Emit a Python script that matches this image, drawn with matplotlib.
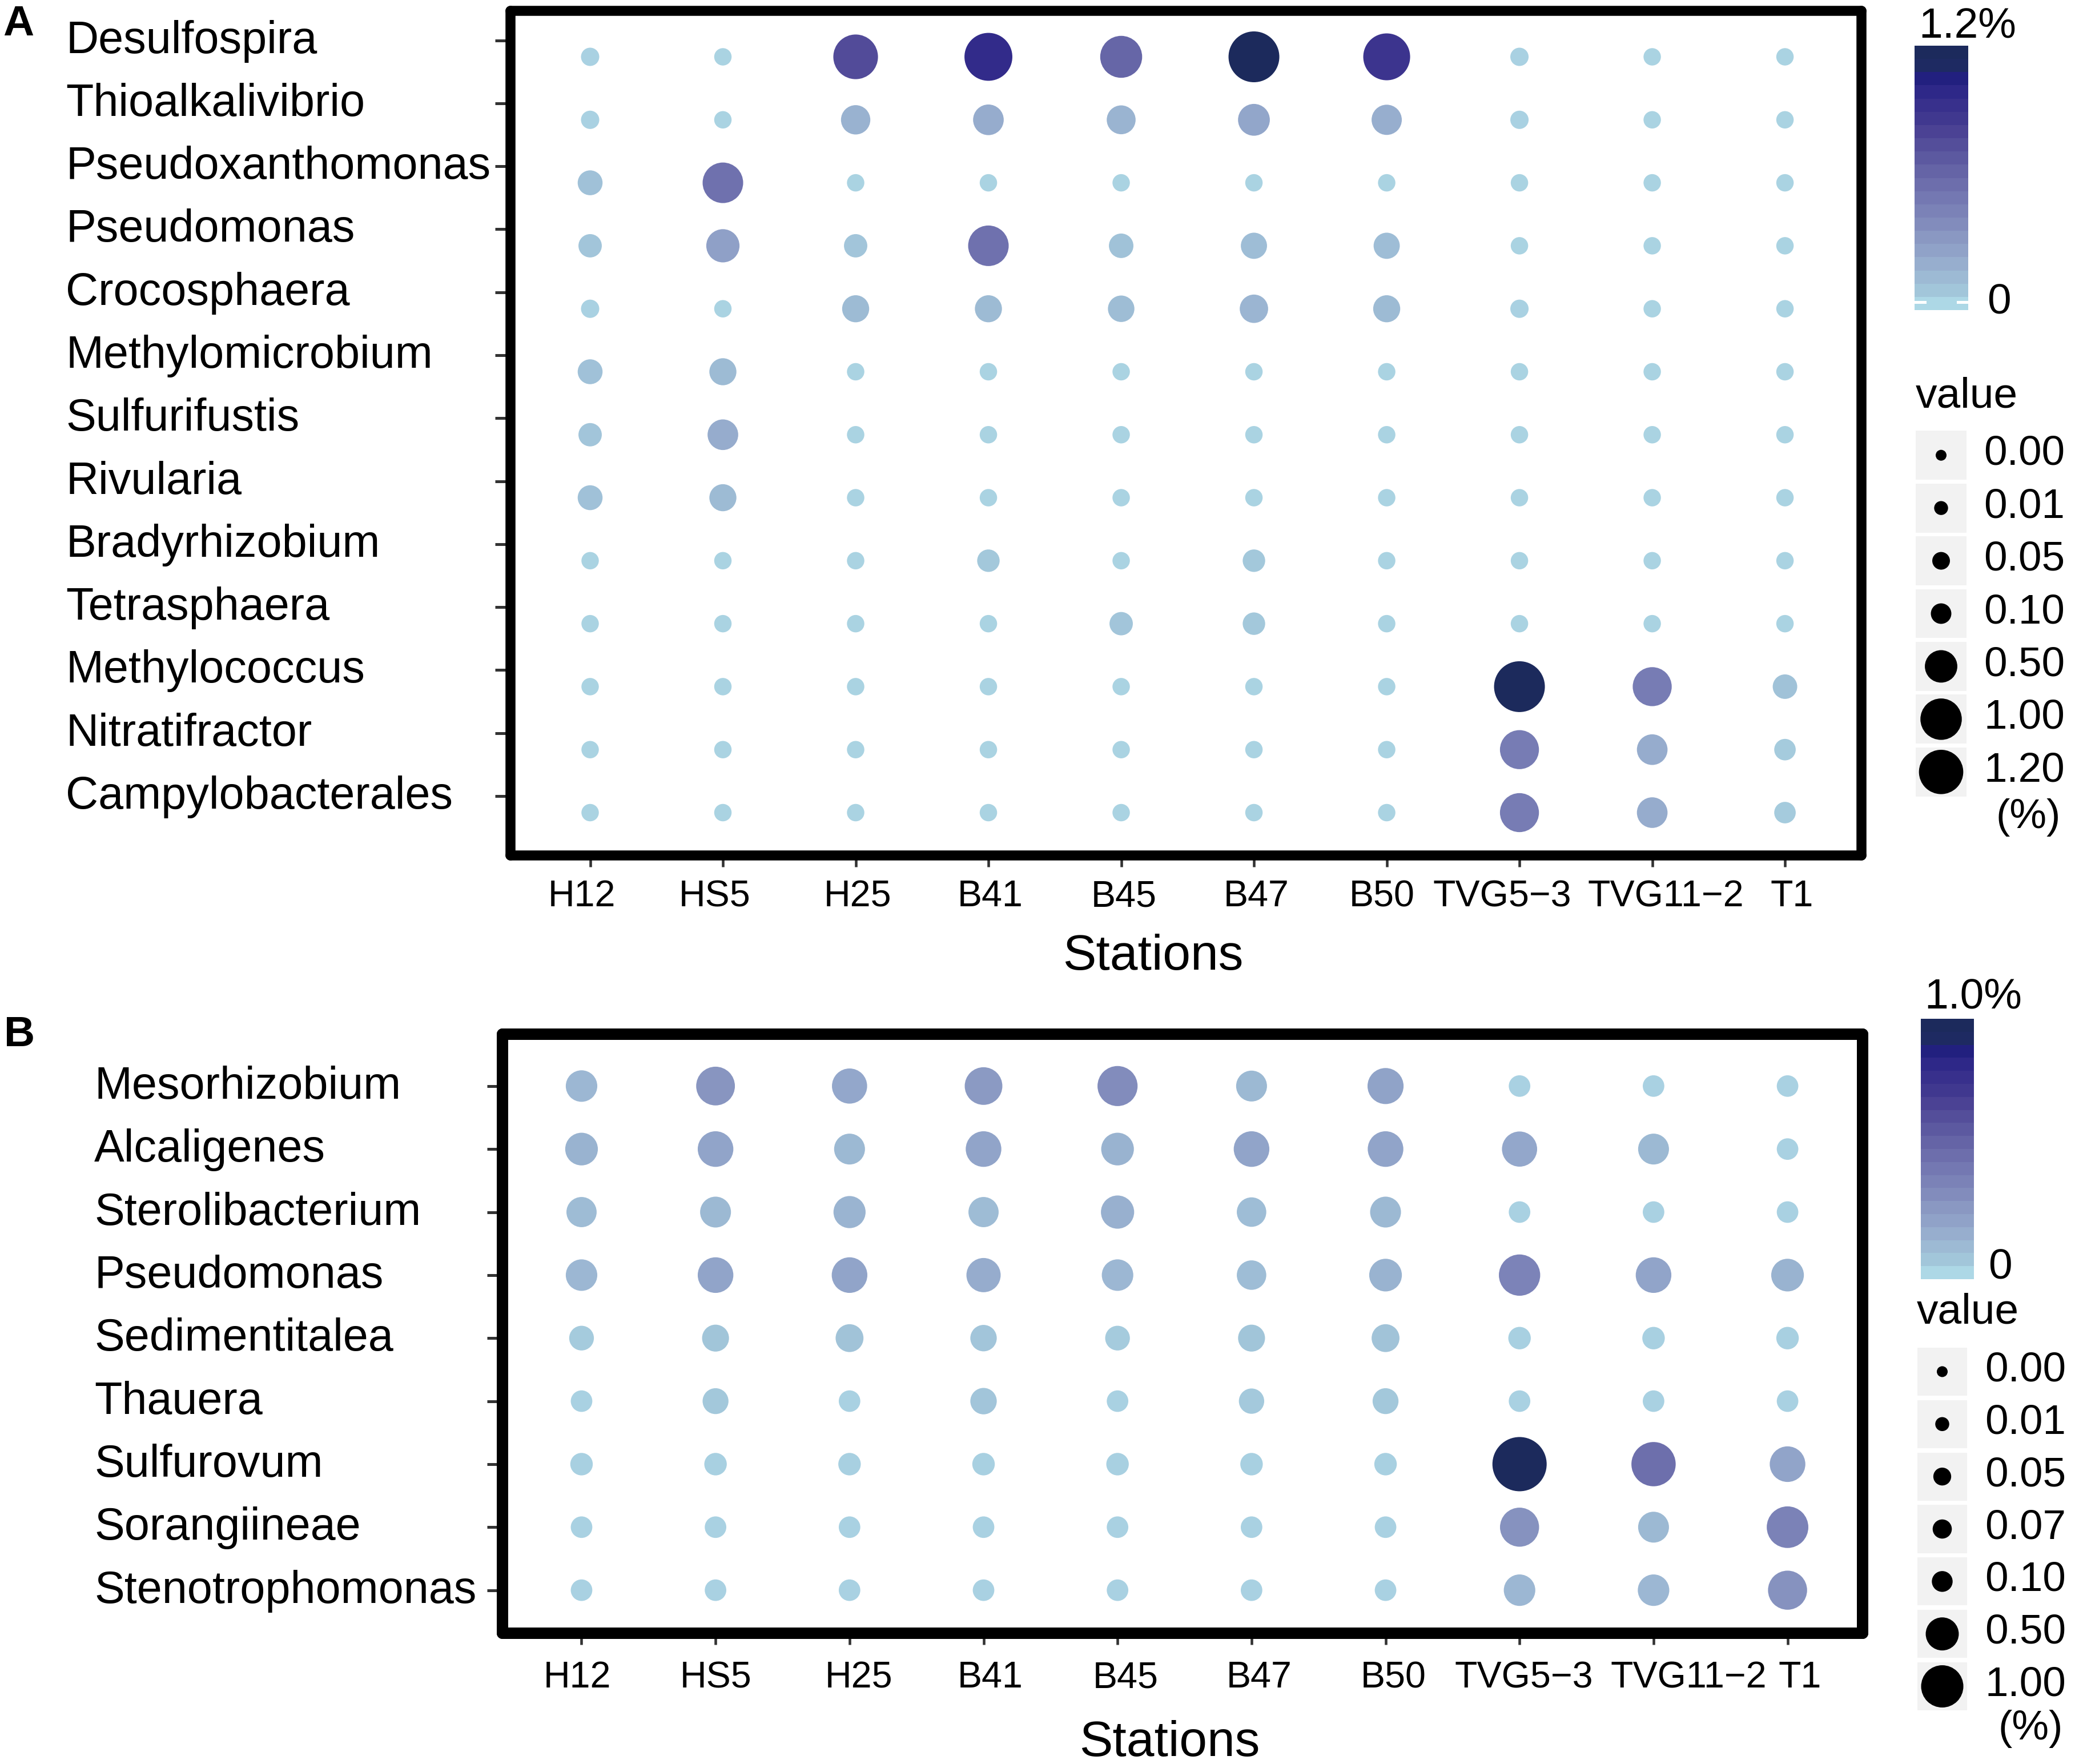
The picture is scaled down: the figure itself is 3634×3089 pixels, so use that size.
import numpy as np
import matplotlib
matplotlib.use("Agg")
import matplotlib.pyplot as plt
from matplotlib.colors import LinearSegmentedColormap, Normalize
from matplotlib.cm import ScalarMappable
from matplotlib.transforms import ScaledTranslation

plt.rcParams["font.family"] = ["Liberation Sans", "DejaVu Sans"]

# --- dados (abundancia relativa, %) ---
stations = ["H12", "HS5", "H25", "B41", "B45", "B47", "B50", "TVG5\u22123", "TVG11\u22122", "T1"]

taxa_a = ["Desulfospira", "Thioalkalivibrio", "Pseudoxanthomonas", "Pseudomonas",
          "Crocosphaera", "Methylomicrobium", "Sulfurifustis", "Rivularia",
          "Bradyrhizobium", "Tetrasphaera", "Methylococcus", "Nitratifractor",
          "Campylobacterales"]
abund_a = [
    [0.025, 0.02, 0.77, 0.98, 0.62, 1.20, 0.91, 0.025, 0.02, 0.02],
    [0.025, 0.02, 0.17, 0.20, 0.16, 0.23, 0.19, 0.025, 0.02, 0.02],
    [0.09, 0.55, 0.02, 0.02, 0.02, 0.02, 0.02, 0.02, 0.02, 0.02],
    [0.07, 0.27, 0.07, 0.55, 0.085, 0.11, 0.11, 0.02, 0.02, 0.02],
    [0.025, 0.02, 0.125, 0.125, 0.115, 0.15, 0.125, 0.025, 0.02, 0.02],
    [0.09, 0.125, 0.02, 0.02, 0.02, 0.02, 0.02, 0.02, 0.02, 0.02],
    [0.07, 0.20, 0.02, 0.02, 0.02, 0.02, 0.02, 0.02, 0.02, 0.02],
    [0.09, 0.125, 0.02, 0.02, 0.02, 0.02, 0.02, 0.02, 0.02, 0.02],
    [0.02, 0.02, 0.02, 0.06, 0.02, 0.06, 0.02, 0.02, 0.02, 0.02],
    [0.02, 0.02, 0.02, 0.02, 0.07, 0.06, 0.02, 0.02, 0.02, 0.02],
    [0.02, 0.02, 0.02, 0.02, 0.02, 0.02, 0.02, 1.20, 0.48, 0.085],
    [0.02, 0.02, 0.02, 0.02, 0.02, 0.02, 0.02, 0.48, 0.20, 0.05],
    [0.02, 0.02, 0.02, 0.02, 0.02, 0.02, 0.02, 0.48, 0.20, 0.05],
]
size_breaks_a = [0.00, 0.01, 0.05, 0.10, 0.50, 1.00, 1.20]
vmax_a = 1.2

taxa_b = ["Mesorhizobium", "Alcaligenes", "Sterolibacterium", "Pseudomonas",
          "Sedimentitalea", "Thauera", "Sulfurovum", "Sorangiineae",
          "Stenotrophomonas"]
abund_b = [
    [0.12, 0.28, 0.19, 0.25, 0.32, 0.11, 0.21, 0.02, 0.02, 0.02],
    [0.14, 0.20, 0.11, 0.20, 0.14, 0.20, 0.20, 0.19, 0.11, 0.02],
    [0.10, 0.11, 0.13, 0.10, 0.15, 0.09, 0.11, 0.02, 0.02, 0.02],
    [0.12, 0.20, 0.20, 0.17, 0.12, 0.09, 0.14, 0.36, 0.20, 0.14],
    [0.04, 0.06, 0.07, 0.055, 0.04, 0.06, 0.07, 0.025, 0.025, 0.025],
    [0.02, 0.05, 0.02, 0.055, 0.02, 0.045, 0.05, 0.02, 0.02, 0.02],
    [0.025, 0.025, 0.025, 0.025, 0.025, 0.025, 0.025, 1.00, 0.47, 0.20],
    [0.02, 0.02, 0.02, 0.02, 0.02, 0.02, 0.02, 0.29, 0.11, 0.37],
    [0.02, 0.02, 0.02, 0.02, 0.02, 0.02, 0.02, 0.12, 0.12, 0.29],
]
size_breaks_b = [0.00, 0.01, 0.05, 0.07, 0.10, 0.50, 1.00]
vmax_b = 1.0

# --- estilo ---
W, H, DPI = 3634, 3089, 300
PT = 72 / DPI  # pontos por pixel

cmap = LinearSegmentedColormap.from_list("abund", [
    "#add8e6", "#a2c6da", "#9dbad4", "#97aece", "#90a2c8", "#8a98c2", "#828cbc",
    "#7b82b7", "#7478b2", "#6d6eac", "#6564a6", "#5c59a0", "#544e9a", "#4b4294",
    "#40388f", "#38308c", "#2e2888", "#22207f", "#1e2a62", "#1c2a5c"])

fig = plt.figure(figsize=(W / DPI, H / DPI), dpi=DPI)


def rect(x0, y0, x1, y1):
    # caixa em pixels (origem no topo) -> fracao da figura
    return [x0 / W, 1 - y1 / H, (x1 - x0) / W, (y1 - y0) / H]


def ftext(x, y, s, **kw):
    fig.text(x / W, 1 - y / H, s, va="baseline", **kw)


def draw_panel(box, taxa, values, vmax, xlim, ylim, shift, label_px, lw, d0,
               nudges, xpad, xlabel_xy):
    ax = fig.add_axes(rect(*box))
    vals = np.array(values)
    ny, nx = vals.shape
    xs, ys = np.meshgrid(np.arange(nx), np.arange(ny))
    # diametro em px ~ raiz cubica do valor relativo
    diam = d0 + 78.6 * np.cbrt(vals / vmax)
    ax.scatter(xs.ravel(), ys.ravel(), s=(diam.ravel() * PT) ** 2, c=vals.ravel(),
               cmap=cmap, vmin=0, vmax=vmax, linewidths=0, zorder=3)
    ax.set_xlim(*xlim)
    ax.set_ylim(*ylim)
    for sp in ax.spines.values():
        sp.set_linewidth(lw)
        sp.set_capstyle("round")
        sp.set_zorder(5)
    ax.tick_params(axis="y", length=6.5, width=1.2, color="#333333",
                   pad=(box[0] - label_px) * PT - 6.5)
    ax.tick_params(axis="x", length=4.8, width=1.1, color="#333333", pad=xpad)
    ax.set_xticks(np.arange(nx))
    ax.set_xticklabels(stations, fontsize=15.5)
    ax.set_yticks(np.arange(ny) - shift)
    ax.set_yticklabels(taxa, fontsize=19, ha="left")
    for lbl, dx in zip(ax.get_xticklabels(), nudges):
        lbl.set_transform(lbl.get_transform() + ScaledTranslation(dx / DPI, 0, fig.dpi_scale_trans))
    for lbl in ax.get_yticklabels():
        lbl.set_transform(lbl.get_transform() + ScaledTranslation(0, 7 / DPI, fig.dpi_scale_trans))
    ax.set_xlabel("Stations", fontsize=21, va="baseline")
    ax.xaxis.set_label_coords(*xlabel_xy)
    return ax


def draw_legend(cbar_box, vmax, top_txt, top_xy, zero_xy, value_xy, keys_box,
                breaks, b, box_h, label_px, pct_xy, white_tick):
    cax = fig.add_axes(rect(*cbar_box))
    sm = ScalarMappable(Normalize(0, vmax), cmap.resampled(20))
    cb = fig.colorbar(sm, cax=cax)
    cb.outline.set_visible(False)
    cb.set_ticks([])
    if white_tick:
        for x0, x1 in [(0, 0.19), (0.81, 1)]:
            cax.plot([x0, x1], [0.03, 0.03], color="white", lw=1.2, transform=cax.transAxes)
    ftext(*top_xy, top_txt, fontsize=18)
    ftext(*zero_xy, "0", fontsize=18)
    ftext(*value_xy, "value", fontsize=18)

    kax = fig.add_axes(rect(*keys_box))
    n = len(breaks)
    rows = np.arange(n)
    kax.barh(rows, 1, height=box_h, left=0, color="#f2f2f2")
    diam = 19 + b * np.sqrt(np.array(breaks) / vmax)
    kax.scatter(np.full(n, 0.5), rows, s=(diam * PT) ** 2, color="black", linewidths=0, zorder=3)
    kax.set_xlim(0, 1)
    kax.set_ylim(n - 0.5, -0.5)
    kax.axis("off")
    lx = (label_px - keys_box[0]) / (keys_box[2] - keys_box[0])
    for r, v in zip(rows, breaks):
        kax.text(lx, r + 0.18, f"{v:.2f}", fontsize=17.5, va="baseline",
                 transform=kax.get_yaxis_transform())
    ftext(*pct_xy, "(%)", fontsize=17.5)


# painel A
draw_panel((894, 19, 3260, 1498), taxa_a, abund_a, vmax_a, (-0.6, 9.576), (12.68, -0.73),
           0.263, 115, 4.2, 10.4,
           [-15, -14, 4, 3, 5, 4, -8, -30, 24, 12], 5.3, (0.4755, -0.1353))
draw_legend((3353, 80, 3447, 543), vmax_a, "1.2%", (3360, 65), (3480, 550), (3355, 713),
            (3355, 751, 3444, 1398), size_breaks_a, 58.6, 0.93, 3474, (3495, 1450), True)
ftext(5, 62, "A", fontsize=18, fontweight="bold")

# painel B
draw_panel((880, 1811, 3262, 2860), taxa_b, abund_b, vmax_b, (-0.59, 9.56), (8.683, -0.823),
           0.0, 165, 4.8, 16.4,
           [-7, 0, 16, 12, 14, 13, 14, 8, 61, 22], 6.8, (0.4903, -0.205))
draw_legend((3364, 1784, 3457, 2240), vmax_b, "1.0%", (3370, 1766), (3482, 2240), (3357, 2317),
            (3358, 2356, 3445, 2999), size_breaks_b, 55.0, 0.915, 3476, (3500, 3046), False)
ftext(7, 1832, "B", fontsize=18, fontweight="bold")

fig.savefig("out.png", dpi=DPI)
